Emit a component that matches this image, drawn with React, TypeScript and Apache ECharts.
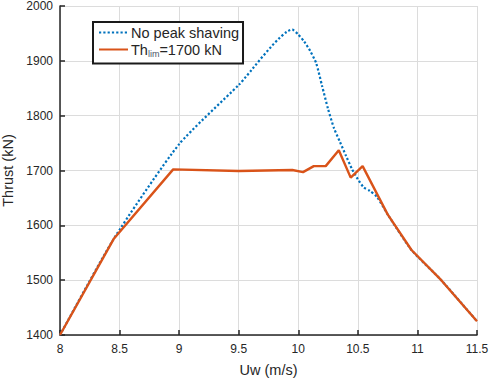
import React, { useEffect, useRef } from "react";
import * as echarts from "echarts";

// Wind speed (m/s) and rotor thrust (kN)
const noShavingU = [8, 8.45, 9, 9.5, 9.95, 10.0, 10.05, 10.1, 10.15, 10.2, 10.25, 10.3, 10.35, 10.4, 10.45, 10.5, 10.55, 10.6, 10.66, 10.75, 10.95, 11.2, 11.5];
const noShavingT = [1400, 1575, 1748, 1856, 1957, 1948, 1935, 1918, 1896, 1854, 1812, 1777, 1752, 1727, 1703, 1684, 1669, 1663, 1652, 1620, 1555, 1500, 1425];

const limitedU = [8, 8.45, 8.95, 9.5, 9.95, 10.04, 10.13, 10.23, 10.34, 10.44, 10.54, 10.75, 10.95, 11.2, 11.5];
const limitedT = [1400, 1575, 1702, 1699, 1701, 1697, 1708, 1708, 1737, 1687, 1708, 1620, 1555, 1500, 1425];

const xTicks = { min: 8, max: 11.5, step: 0.5 };
const yTicks = { min: 1400, max: 2000, step: 100 };

const textColor = "#262626";
const font = "Liberation Sans, Arial, sans-serif";

export default function App() {
  const ref = useRef<HTMLDivElement>(null);

  useEffect(() => {
    const chart = echarts.init(ref.current!, undefined, { renderer: "svg" });
    const zip = (xs: number[], ys: number[]) => xs.map((x, i) => [x, ys[i]]);
    chart.setOption({
      animation: false,
      textStyle: { fontFamily: font, color: textColor },
      grid: { left: 60, right: 13, top: 6, bottom: 46, outerBoundsMode: "none", containLabel: false },
      xAxis: {
        type: "value",
        min: xTicks.min,
        max: xTicks.max,
        interval: xTicks.step,
        name: "Uw (m/s)",
        nameLocation: "middle",
        nameGap: 27,
        nameTextStyle: { fontSize: 14.5, color: textColor, fontFamily: font },
        axisLine: { lineStyle: { color: "#262626", width: 1.5 } },
        axisTick: { inside: true, length: 5, lineStyle: { color: "#262626", width: 1.5 } },
        axisLabel: { fontSize: 12, color: textColor, fontFamily: font, margin: 8, formatter: (v: number) => String(v) },
        splitLine: { show: true, lineStyle: { color: "#dcdcdc", width: 1 } },
      },
      yAxis: {
        type: "value",
        min: yTicks.min,
        max: yTicks.max,
        interval: yTicks.step,
        name: "Thrust (kN)",
        nameLocation: "middle",
        nameGap: 43,
        nameTextStyle: { fontSize: 14.5, color: textColor, fontFamily: font },
        axisLine: { show: true, lineStyle: { color: "#262626", width: 1.5 } },
        axisTick: { show: true, inside: true, length: 5, lineStyle: { color: "#262626", width: 1.5 } },
        axisLabel: { fontSize: 12, color: textColor, fontFamily: font, margin: 7, formatter: (v: number) => String(v) },
        splitLine: { show: true, lineStyle: { color: "#dcdcdc", width: 1 } },
      },
      legend: {
        left: 93,
        top: 22,
        orient: "vertical",
        itemGap: 2,
        itemWidth: 29,
        itemHeight: 14,
        padding: [3, 4, 5, 5],
        borderColor: "#1a1a1a",
        borderWidth: 2,
        backgroundColor: "#ffffff",
        itemStyle: { opacity: 0 },
        textStyle: {
          fontSize: 14.5,
          color: textColor,
          fontFamily: font,
          padding: [0, 0, 0, -2],
          rich: {
            a: { fontSize: 14.5, color: textColor, fontFamily: font },
            s: { fontSize: 9, color: "#4a5566", fontFamily: font, padding: [9, 0, 0, 0] },
          },
        },
        formatter: (name: string) =>
          name === "lim" ? "{a|Th}{s|lim}{a|=1700 kN}" : name,
        data: ["No peak shaving", "lim"],
      },
      series: [
        {
          name: "No peak shaving",
          type: "line",
          data: zip(noShavingU, noShavingT),
          smooth: 0.2,
          symbol: "none",
          lineStyle: { color: "#0072BD", width: 2.2, type: [2.2, 2.1] },
          itemStyle: { color: "#0072BD" },
        },
        {
          name: "lim",
          type: "line",
          data: zip(limitedU, limitedT),
          symbol: "none",
          lineStyle: { color: "#D95319", width: 2.4 },
          itemStyle: { color: "#D95319" },
        },
      ],
    });
    return () => chart.dispose();
  }, []);

  return (
    <div
      ref={ref}
      style={{ position: "absolute", left: 0, top: 0, width: 490, height: 381 }}
    />
  );
}
